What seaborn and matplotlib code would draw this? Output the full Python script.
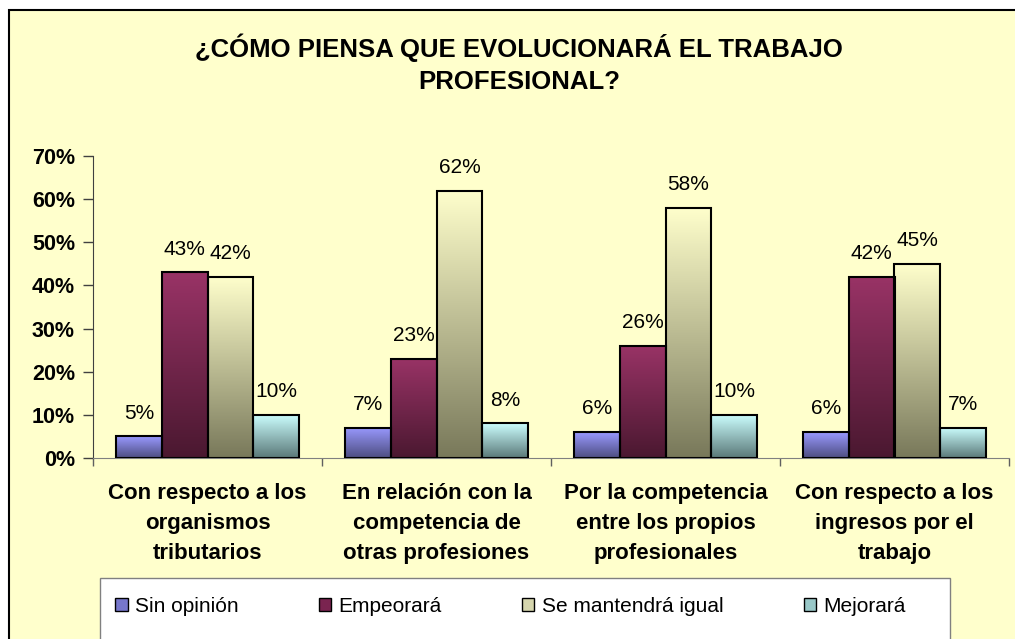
import numpy as np
import pandas as pd
import matplotlib
matplotlib.use('Agg')
import matplotlib.pyplot as plt
import seaborn as sns
from matplotlib.patches import Rectangle, Patch
from matplotlib.colors import LinearSegmentedColormap

# datos
categorias = ['Con respecto a los\norganismos\ntributarios',
              'En relación con la\ncompetencia de\notras profesiones',
              'Por la competencia\nentre los propios\nprofesionales',
              'Con respecto a los\ningresos por el\ntrabajo']
series = ['Sin opinión', 'Empeorará', 'Se mantendrá igual', 'Mejorará']
sin_opinion = [5, 7, 6, 6]
empeorara = [43, 23, 26, 42]
se_mantendra = [42, 62, 58, 45]
mejorara = [10, 8, 10, 7]
yticks = [0, 10, 20, 30, 40, 50, 60, 70]

# colores (arriba claro, abajo oscuro)
col_top = ['#9999FF', '#993366', '#FFFFCC', '#CCFFFF']
col_bot = ['#4D4D80', '#4A1830', '#78785A', '#5A7878']
col_leg = ['#7777CC', '#7A2450', '#D6D6AE', '#99C8C8']

sns.set_style('white')
plt.rcParams['font.family'] = ['Liberation Sans', 'DejaVu Sans']
plt.rcParams['text.color'] = 'black'
plt.rcParams['xtick.color'] = 'black'
plt.rcParams['ytick.color'] = 'black'

df = pd.DataFrame({
    'cat': categorias * 4,
    'serie': np.repeat(series, 4),
    'val': sin_opinion + empeorara + se_mantendra + mejorara,
})

fig = plt.figure(figsize=(10.15, 6.39), dpi=100)
fig.patch.set_facecolor('white')
# fondo amarillo con borde
fig.patches.append(Rectangle((9 / 1015, -0.5), 2.0, 0.5 + (639 - 10) / 639,
                             transform=fig.transFigure, facecolor='#FFFFCC',
                             edgecolor='black', linewidth=1.5, zorder=-10))
# caja blanca de la leyenda
fig.patches.append(Rectangle((100 / 1015, -0.1), 850 / 1015, 0.1 + (639 - 578) / 639,
                             transform=fig.transFigure, facecolor='white',
                             edgecolor='#808080', linewidth=1, zorder=-5))

ax = fig.add_axes([93 / 1015, (639 - 458) / 639, 916 / 1015, 302 / 639])
ax.set_facecolor('none')

sns.barplot(data=df, x='cat', y='val', hue='serie', hue_order=series,
            palette=dict(zip(series, col_top)), saturation=1, width=0.8,
            edgecolor='black', linewidth=1.5, legend=False, ax=ax)

ax.set_xlim(-0.5, 3.5)
ax.set_ylim(0, 70)

# degradado en cada barra
for i, cont in enumerate(ax.containers):
    cmap = LinearSegmentedColormap.from_list('g%d' % i, [col_bot[i], col_top[i]])
    grad = np.linspace(0, 1, 256).reshape(-1, 1)
    for bar in cont:
        x0, y0 = bar.get_x(), bar.get_y()
        w, h = bar.get_width(), bar.get_height()
        im = ax.imshow(grad, cmap=cmap, origin='lower', aspect='auto',
                       extent=[x0, x0 + w, y0, y0 + h], zorder=2)
        im.set_clip_path(bar)
        bar.set_facecolor('none')
        bar.set_zorder(3)
    vals = [v for v in cont.datavalues]
    ax.bar_label(cont, labels=['%d%%' % v for v in vals], padding=10,
                 fontsize=15, color='black')

ax.set_xlim(-0.5, 3.5)
ax.set_ylim(0, 70)
ax.set_yticks(yticks)
ax.set_yticklabels(['%d%%' % t for t in yticks], fontsize=15.5, fontweight='bold')
ax.tick_params(axis='y', length=7, width=1, color='#404040', direction='out', left=True, pad=6)
ax.tick_params(axis='x', which='major', length=0, pad=18)
ax.set_xticks([-0.5, 0.5, 1.5, 2.5, 3.5], minor=True)
ax.tick_params(axis='x', which='minor', length=6, width=1, color='#606060', direction='out', bottom=True)
for lab in ax.get_xticklabels():
    lab.set_fontsize(16)
    lab.set_fontweight('bold')
    lab.set_linespacing(1.55)
ax.set_xlabel('')
ax.set_ylabel('')
for s in ['top', 'right']:
    ax.spines[s].set_visible(False)
ax.spines['left'].set_color('#404040')
ax.spines['bottom'].set_color('#808080')

fig.text(519 / 1015, (639 - 63.5) / 639,
         '¿CÓMO PIENSA QUE EVOLUCIONARÁ EL TRABAJO\nPROFESIONAL?',
         ha='center', va='center', fontsize=18.5, fontweight='bold', linespacing=1.42)

handles = [Patch(facecolor=c, edgecolor='black', linewidth=1) for c in col_leg]
fig.legend(handles, series, ncol=4, loc='center left',
           bbox_to_anchor=(115 / 1015, (639 - 606) / 639),
           frameon=False, fontsize=15, handlelength=0.6, handleheight=0.6,
           handletextpad=0.35, columnspacing=3.85, borderpad=0, borderaxespad=0)

fig.savefig('out.png', dpi=100)
